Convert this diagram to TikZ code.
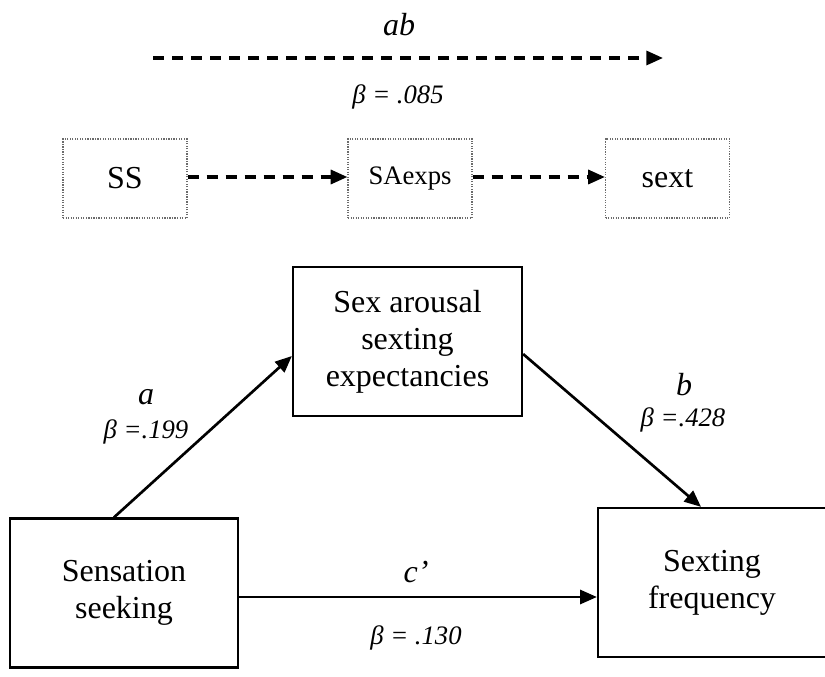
\documentclass[tikz,border=0pt]{standalone}
\usepackage{fontspec}
\setmainfont{Liberation Serif}
\usepackage{tikz}
\usetikzlibrary{
  arrows.meta,
  positioning
}
\definecolor{medDot}{HTML}{6B6B6B}
\tikzset{
  medtext/.style={font=\fontsize{24}{27.75}\selectfont},
  betatext/.style={font=\fontsize{20}{24}\selectfont\itshape, inner sep=1pt},
  pathtext/.style={font=\fontsize{24}{28}\selectfont\itshape, inner sep=1pt},
  shortbox/.style={
    draw=medDot, densely dotted, line width=0.9pt, minimum width=93pt,
    minimum height=59.25pt, inner sep=0pt, medtext
  },
  varbox/.style={
    draw, line width=1.7pt, minimum width=171pt, minimum height=111.75pt,
    inner sep=0pt, align=center, medtext
  },
  effect/.style={-{Triangle[length=12.5pt, width=10.5pt]}, line width=2pt},
  indirect/.style={effect, line width=2.4pt, dash pattern=on 8.25pt off 6pt}
}

\begin{document}
\begin{tikzpicture}[x=0.75pt, y=-0.75pt]
  \useasboundingbox (0,0) rectangle (825,677);

  % indirect effect, short names
  \coordinate (abStart) at (153,58);
  \coordinate (abEnd) at (663,58);
  \draw[indirect] (abStart) -- (abEnd);
  \node[pathtext] (abLab) at (399,25) {ab};
  \node[betatext] (abBeta) at (398,97) {β = .085};

  \node[shortbox] (ss) at (125,178.5) {SS};
  \node[shortbox, font=\fontsize{20}{24}\selectfont] (saexps) at (410,178.5) {SAexps};
  \node[shortbox] (sext) at (667.5,178.5) {sext};
  \draw[indirect] (ss.east |- 0,177) -- (saexps.west |- 0,177);
  \draw[indirect] (saexps.east |- 0,177) -- (sext.west |- 0,177);

  % mediation model
  \node[varbox, minimum width=171.75pt] (med) at (407.5,341.5)
    {Sex arousal\\sexting\\expectancies};
  \node[varbox] (ssk) at (124,593) {Sensation\\seeking};
  \node[varbox] (sf) at (712,582.5) {Sexting\\frequency};

  \draw[effect] ([xshift=-7.5pt]ssk.north) -- ([yshift=-10.9pt]med.west);
  \draw[effect] ([yshift=-9.4pt]med.east) -- ([xshift=-8.25pt]sf.north);
  \draw[effect] ([yshift=-3pt]ssk.east) -- ([yshift=-3pt]ssk.east -| sf.west);

  \node[pathtext] (aLab) at (146,397) {a};
  \node[betatext] (aBeta) at (146,432) {β =.199};
  \node[pathtext] (bLab) at (684,385) {b};
  \node[betatext] (bBeta) at (683,420) {β =.428};
  \node[pathtext] (cLab) at (416,572) {c’};
  \node[betatext] (cBeta) at (416,638) {β = .130};
\end{tikzpicture}
\end{document}
